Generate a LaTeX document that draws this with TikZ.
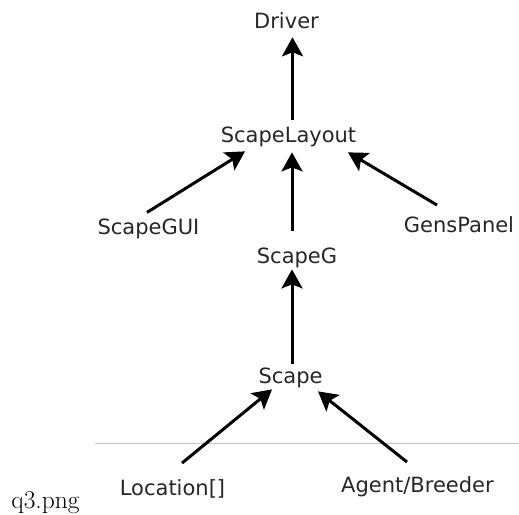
\documentclass[tikz,border=0pt]{standalone}
\usepackage{fontspec}
\newfontfamily\dejavu{DejaVu Sans}
\usetikzlibrary{%
    arrows.meta,%
    positioning
}

\begin{document}
\begin{tikzpicture}[x=1pt,y=-1pt,
    cls/.style={inner sep=0pt,outer sep=0pt,anchor=base,font=\dejavu\fontsize{21}{25}\selectfont,text=black!85},
    dep/.style={line width=3pt,-{Stealth[length=19pt,width=21pt,inset=4pt]}}]
\useasboundingbox (0,0) rectangle (519,514);

\node[cls] (drv) at (286.5,28) {Driver};
\node[cls] (layout) at (288.5,142) {ScapeLayout};
\node[cls] (sgui) at (148.5,234) {ScapeGUI};
\node[cls] (gens) at (459,232) {GensPanel};
\node[cls] (sg) at (297,263) {ScapeG};
\node[cls] (scape) at (290.5,383) {Scape};
\node[cls] (loc) at (172.5,495) {Location[]};
\node[cls] (agent) at (417.5,492) {Agent/Breeder};

\draw[black!22,line width=1pt] (95,443) coordinate (rulestart) -- (519,443) coordinate (ruleend);
\node[anchor=base,inner sep=0pt,font=\fontsize{25.5}{30}\selectfont] (cap) at (45.5,508) {q3.png};

\draw[dep] ([xshift=4pt,yshift=6pt]layout.north) -- ([xshift=6pt,yshift=-9pt]drv.south);
\draw[dep] ([xshift=-1.5pt,yshift=6pt]sgui.north) -- ([xshift=-43.5pt,yshift=-5pt]layout.south);
\draw[dep] ([xshift=-5pt,yshift=16pt]sg.north) -- ([xshift=3.5pt,yshift=-6pt]layout.south);
\draw[dep] ([xshift=-22pt,yshift=11pt]gens.north) -- ([xshift=59.5pt,yshift=-6pt]layout.south);
\draw[dep] ([xshift=1.5pt,yshift=3pt]scape.north) -- ([xshift=-5pt,yshift=-2pt]sg.south);
\draw[dep] ([xshift=9.5pt,yshift=16pt]loc.north) -- ([xshift=-18.5pt,yshift=-2pt]scape.south);
\draw[dep] ([xshift=-10.5pt,yshift=14pt]agent.north) -- ([xshift=27.5pt,yshift=-4pt]scape.south);
\end{tikzpicture}
\end{document}
